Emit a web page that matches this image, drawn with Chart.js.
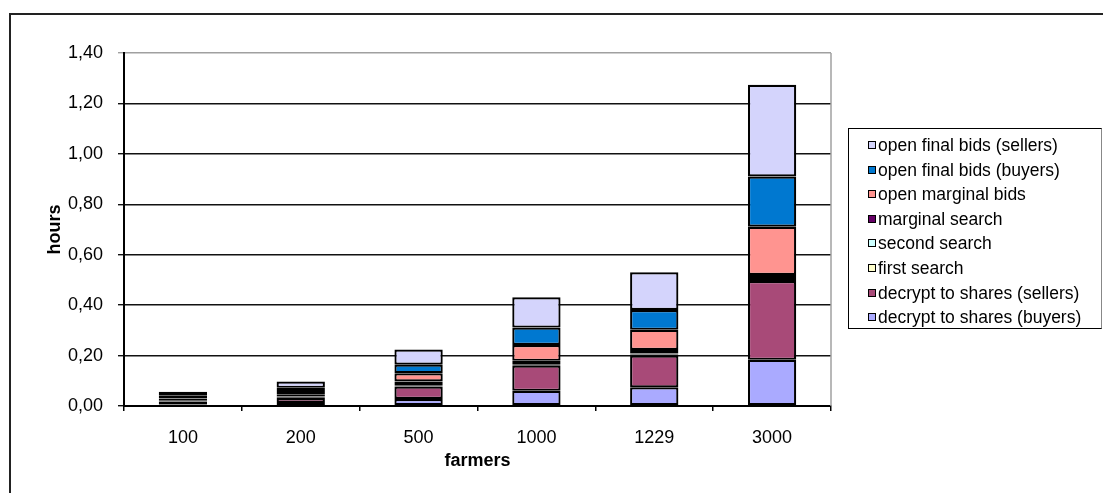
<!DOCTYPE html>
<html>
<head>
<meta charset="utf-8">
<script src="https://cdn.jsdelivr.net/npm/chart.js@4/dist/chart.umd.min.js"></script>
<style>
  body { margin: 0; background: #fff; }
  #wrap { position: relative; width: 1103px; height: 493px; }
  #legend {
    position: absolute; left: 848px; top: 128px; width: 252px; height: 199px;
    border: 1.5px solid #000; border-right-color: #888;
    font-family: "Liberation Sans", Arial, sans-serif; font-size: 17.5px; color: #000;
  }
  .item { position: absolute; left: 19px; height: 20px; line-height: 20px; white-space: nowrap; }
  .box { position: absolute; left: 0; top: 6px; width: 6px; height: 6px; border: 1.5px solid #000; }
  .item span { position: absolute; left: 10px; }
</style>
</head>
<body>
<div id="wrap">
  <canvas id="chart" width="1103" height="493"></canvas>
  <div id="legend"></div>
</div>
<script>
const farmers = ["100", "200", "500", "1000", "1229", "3000"];
const yTicks = [0, 0.2, 0.4, 0.6, 0.8, 1.0, 1.2, 1.4];

// values in hours, bottom to top of each stack
const decryptBuyers = [0.006, 0.012, 0.028, 0.060, 0.074, 0.183];
const decryptSellers = [0.012, 0.020, 0.049, 0.100, 0.126, 0.313];
const firstSearch = [0.003, 0.003, 0.003, 0.003, 0.004, 0.004];
const secondSearch = [0.003, 0.003, 0.003, 0.003, 0.004, 0.004];
const marginalSearch = [0.006, 0.009, 0.014, 0.013, 0.014, 0.016];
const openMarginal = [0.006, 0.012, 0.033, 0.063, 0.080, 0.191];
const finalBuyers = [0.007, 0.013, 0.034, 0.069, 0.079, 0.199];
const finalSellers = [0.014, 0.025, 0.060, 0.120, 0.149, 0.364];

const series = [
  { label: "decrypt to shares (buyers)", data: decryptBuyers, color: "#aaaaff" },
  { label: "decrypt to shares (sellers)", data: decryptSellers, color: "#a84a78" },
  { label: "first search", data: firstSearch, color: "#ffffcc" },
  { label: "second search", data: secondSearch, color: "#ccffff" },
  { label: "marginal search", data: marginalSearch, color: "#660066" },
  { label: "open marginal bids", data: openMarginal, color: "#ff9490" },
  { label: "open final bids (buyers)", data: finalBuyers, color: "#0078d0" },
  { label: "open final bids (sellers)", data: finalSellers, color: "#d4d4fc" }
];

const font = { family: "'Liberation Sans', Arial, sans-serif", size: 18 };

const frame = {
  id: "frame",
  afterDraw(chart) {
    const c = chart.ctx, a = chart.chartArea;
    c.save();
    c.strokeStyle = "#a0a0a0";
    c.lineWidth = 1.5;
    c.beginPath();
    c.moveTo(a.right, a.top);
    c.lineTo(a.right, a.bottom);
    c.stroke();
    c.strokeStyle = "#222";
    c.lineWidth = 2;
    c.strokeRect(10, 14, 1200, 600);
    c.restore();
  }
};

new Chart(document.getElementById("chart"), {
  type: "bar",
  data: {
    labels: farmers,
    datasets: series.map(s => ({
      label: s.label,
      data: s.data,
      backgroundColor: s.color,
      borderColor: "#000",
      borderWidth: 2.2,
      borderSkipped: false,
      barPercentage: 0.41,
      categoryPercentage: 1
    }))
  },
  options: {
    responsive: false,
    animation: false,
    layout: { padding: { left: 30, top: 53, right: 272, bottom: 0 } },
    plugins: { legend: { display: false }, tooltip: { enabled: false } },
    scales: {
      x: {
        stacked: true,
        afterFit(s) { s.height = 87; },
        grid: { drawOnChartArea: false, drawTicks: true, tickLength: 5, color: "#000", lineWidth: 1.5 },
        border: { color: "#000", width: 2 },
        ticks: { font: font, color: "#000", padding: 16 },
        title: { display: true, text: "farmers", color: "#000",
          font: { family: font.family, size: 18, weight: "bold" }, padding: { top: 0, bottom: 21 } }
      },
      y: {
        stacked: true,
        min: 0,
        max: 1.4,
        afterFit(s) { s.width = 94; },
        afterBuildTicks(s) { s.ticks = yTicks.map(v => ({ value: v })); },
        grid: {
          tickLength: 6,
          lineWidth: 1.4,
          color: ctx => (ctx.tick && ctx.tick.value >= 1.4 ? "#a0a0a0" : "#111")
        },
        border: { color: "#000", width: 2 },
        ticks: { font: font, color: "#000", padding: 15,
          callback: v => v.toFixed(2).replace(".", ",") },
        title: { display: true, text: "hours", color: "#000",
          font: { family: font.family, size: 18, weight: "bold" }, padding: { top: 14.7, bottom: 0 } }
      }
    }
  },
  plugins: [frame]
});

// legend, top entry = top of the stack
const legend = document.getElementById("legend");
series.slice().reverse().forEach((s, i) => {
  const item = document.createElement("div");
  item.className = "item";
  item.style.top = (6 + i * 24.6) + "px";
  item.innerHTML = `<div class="box" style="background:${s.color}"></div><span>${s.label}</span>`;
  legend.appendChild(item);
});
</script>
</body>
</html>
